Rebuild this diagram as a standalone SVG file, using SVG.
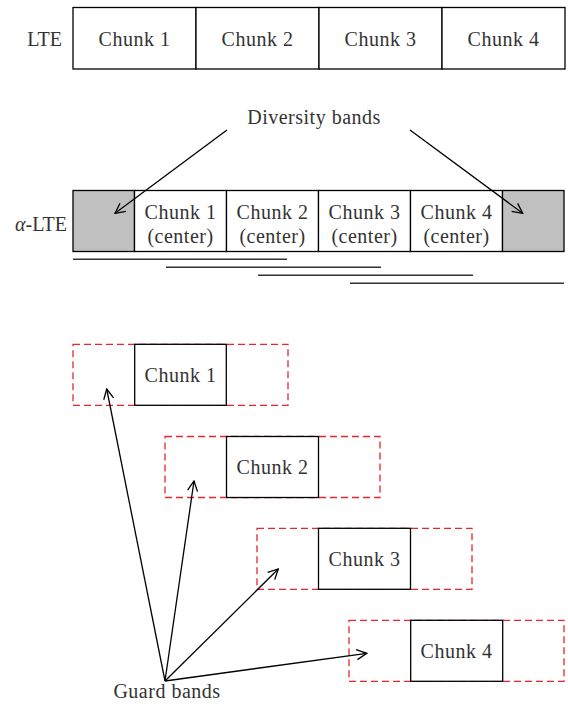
<svg xmlns="http://www.w3.org/2000/svg" width="568" height="714" viewBox="0 0 568 714">
<style>
text{font-family:"Liberation Serif","DejaVu Serif",serif;font-size:20px;letter-spacing:0.5px;fill:#333;text-anchor:middle}
.lbl{text-anchor:end;letter-spacing:0}
.cell{fill:#fff;stroke:#000;stroke-width:1.3}
.gray{fill:#c0c0c0;stroke:#000;stroke-width:1.3}
.guard{fill:none;stroke:#e8262c;stroke-width:1.3;stroke-dasharray:7 4}
.conn{fill:none;stroke:#000;stroke-width:1.3;marker-end:url(#arr)}
.span{stroke:#333;stroke-width:1.6}
</style>
<defs>
<marker id="arr" viewBox="0 0 12 12" refX="11" refY="6" markerWidth="12" markerHeight="12" markerUnits="userSpaceOnUse" orient="auto">
<path d="M1,1 L11,6 L1,11" fill="none" stroke="#000" stroke-width="1.3"/>
</marker>
</defs>
<rect width="568" height="714" fill="#fff"/>
<g id="lte">
<text class="lbl" x="62" y="46">LTE</text>
<rect class="cell" x="73" y="7.5" width="123" height="61.5"/>
<rect class="cell" x="196" y="7.5" width="123" height="61.5"/>
<rect class="cell" x="319" y="7.5" width="123" height="61.5"/>
<rect class="cell" x="442" y="7.5" width="123" height="61.5"/>
<text x="134.5" y="46">Chunk 1</text>
<text x="257.5" y="46">Chunk 2</text>
<text x="380.5" y="46">Chunk 3</text>
<text x="503.5" y="46">Chunk 4</text>
</g>
<g id="diversity-label">
<text x="314" y="124">Diversity bands</text>
</g>
<g id="alpha-lte">
<text class="lbl" x="67" y="231"><tspan font-style="italic">α</tspan>-LTE</text>
<rect class="gray" x="73" y="190.5" width="61.5" height="61"/>
<rect class="cell" x="134.5" y="190.5" width="92" height="61"/>
<rect class="cell" x="226.5" y="190.5" width="92" height="61"/>
<rect class="cell" x="318.5" y="190.5" width="92" height="61"/>
<rect class="cell" x="410.5" y="190.5" width="92" height="61"/>
<rect class="gray" x="502.5" y="190.5" width="61.5" height="61"/>
<text x="180.5" y="219">Chunk 1</text><text x="180.5" y="243">(center)</text>
<text x="272.5" y="219">Chunk 2</text><text x="272.5" y="243">(center)</text>
<text x="364.5" y="219">Chunk 3</text><text x="364.5" y="243">(center)</text>
<text x="456.5" y="219">Chunk 4</text><text x="456.5" y="243">(center)</text>
</g>
<g id="spans">
<line class="span" x1="73" y1="259.3" x2="287" y2="259.3"/>
<line class="span" x1="166" y1="267.3" x2="381" y2="267.3"/>
<line class="span" x1="258" y1="275.3" x2="473" y2="275.3"/>
<line class="span" x1="350" y1="283.3" x2="564" y2="283.3"/>
</g>
<g id="guard1">
<rect class="guard" x="73" y="344.3" width="215" height="61"/>
<rect class="cell" x="134.7" y="344.3" width="91.6" height="61"/>
<text x="180.5" y="382">Chunk 1</text>
</g>
<g id="guard2">
<rect class="guard" x="165" y="436.5" width="215" height="61"/>
<rect class="cell" x="226.5" y="436.5" width="92" height="61"/>
<text x="272.5" y="474">Chunk 2</text>
</g>
<g id="guard3">
<rect class="guard" x="257" y="528.3" width="215" height="61"/>
<rect class="cell" x="318.5" y="528.3" width="92" height="61"/>
<text x="364.5" y="566">Chunk 3</text>
</g>
<g id="guard4">
<rect class="guard" x="349" y="620.3" width="215" height="61"/>
<rect class="cell" x="410.7" y="620.3" width="92" height="61"/>
<text x="456.5" y="658">Chunk 4</text>
</g>
<g id="guard-label">
<text x="167" y="698">Guard bands</text>
</g>
<g id="connectors">
<line class="conn" x1="227" y1="130" x2="115" y2="213.3"/>
<line class="conn" x1="410" y1="130" x2="522.7" y2="213.3"/>
<line class="conn" x1="165" y1="681" x2="106.7" y2="389"/>
<line class="conn" x1="165" y1="681" x2="194" y2="481"/>
<line class="conn" x1="165" y1="681" x2="278.3" y2="569"/>
<line class="conn" x1="165" y1="681" x2="366.7" y2="653.3"/>
</g>
</svg>
